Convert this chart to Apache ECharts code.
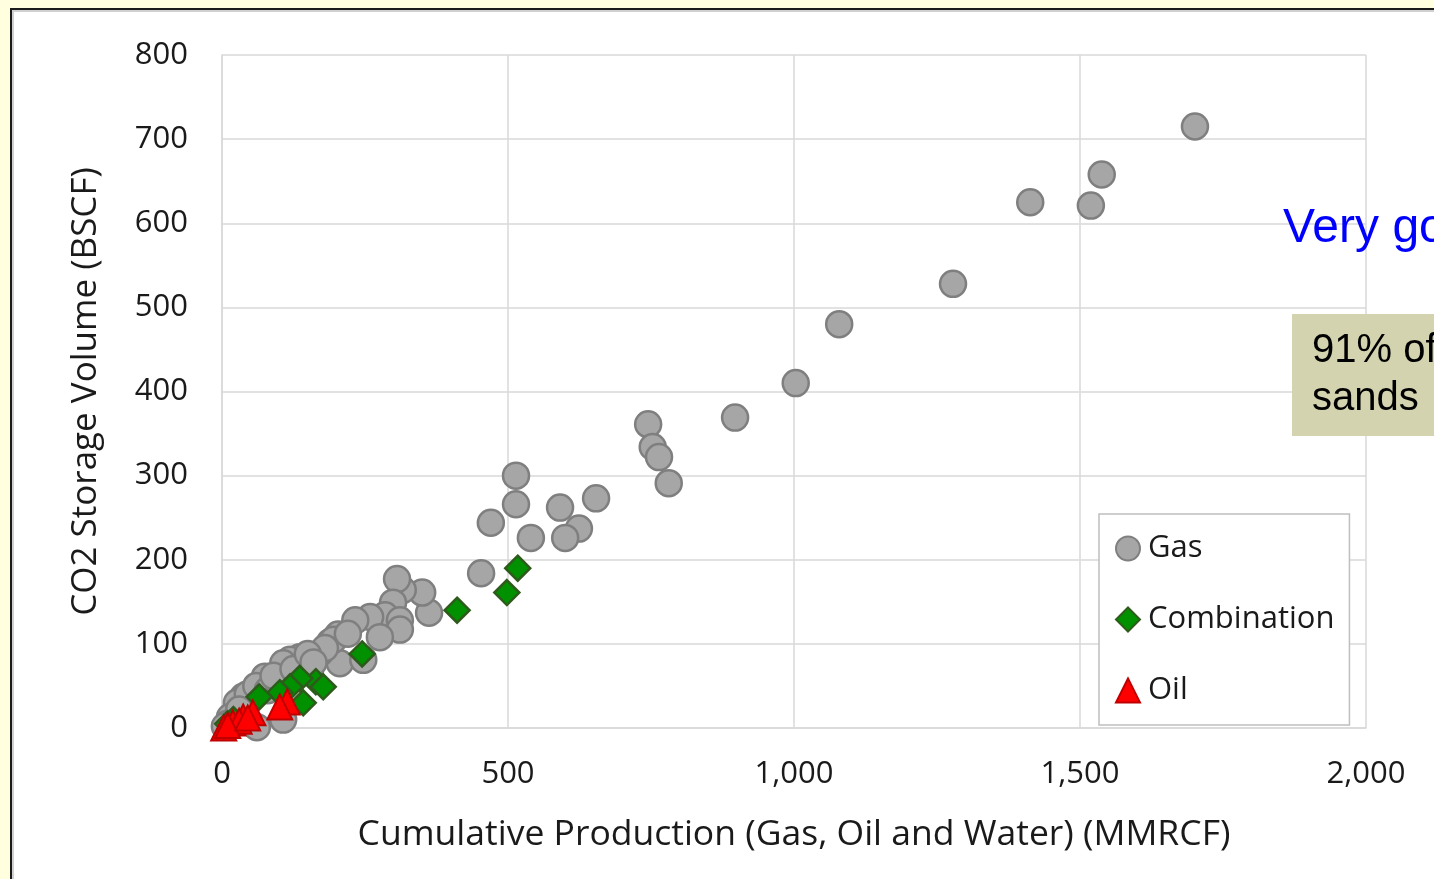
<!DOCTYPE html>
<html><head><meta charset="utf-8">
<script src="https://cdn.jsdelivr.net/npm/echarts@6/dist/echarts.min.js"></script>
<style>
html,body{margin:0;padding:0;background:#FFFFE0;width:1434px;height:879px;overflow:hidden;}
#frame{position:absolute;left:10px;top:8px;width:1500px;height:950px;background:#fff;border:2px solid #1a1a1a;box-shadow:inset 2px 2px 0 #d0d0d0;}
#chart{position:absolute;left:0;top:0;width:1434px;height:879px;}
</style></head>
<body><div id="frame"></div><div id="chart"></div>
<script>
const xTicks = [0, 500, 1000, 1500, 2000];
const yTicks = [0, 100, 200, 300, 400, 500, 600, 700, 800];
const gasData = [
 [1701,715],[1538,658],[1519,621],[1413,625],[1278,528],[1079,480],[1003,410],[897,369],
 [745,361],[753,334],[764,322],[781,291],[654,273],[591,262],[624,237],[600,226],[540,226],
 [514,300],[514,266],[470,244],[453,184],[362,137],[350,161],[316,164],[306,177],[299,149],
 [285,134],[259,132],[233,128],[311,128],[311,117],[276,108],[203,111],[189,102],[206,77],
 [247,81],[171,89],[136,84],[119,81],[107,77],[154,69],[75,61],[37,37],[26,30],[107,10],
 [61,1],[14,13],[45,40],[60,50],[80,45],[100,50],[10,5],[5,2],[30,22],[90,62],[125,70],
 [195,105],[180,95],[220,112],[150,88],[160,78]
];
const comboData = [
 [517,190],[498,161],[411,140],[245,88],[164,55],[177,49],[136,59],[119,49],[142,30],
 [101,42],[65,37],[20,10],[10,5]
];
const oilData = [
 [114,31],[101,25],[54,18],[37,13],[19,6],[3,0],[30,8],[10,3],[45,12]
];

const chart = echarts.init(document.getElementById('chart'), null, {renderer:'canvas'});
const FONT = '"Open Sans"';
const fmt = v => v.toLocaleString('en-US');
chart.setOption({
  backgroundColor: 'transparent',
  animation: false,
  grid: {left:222, right:68, top:55, bottom:151, containLabel:false},
  xAxis: {
    type:'value', min:xTicks[0], max:xTicks[xTicks.length-1], interval:500,
    name:'Cumulative Production (Gas, Oil and Water) (MMRCF)',
    nameLocation:'middle', nameGap:89,
    nameTextStyle:{fontFamily:FONT, fontSize:35.5, color:'#1a1a1a'},
    axisLine:{show:true, lineStyle:{color:'#d9d9d9', width:1.5}},
    axisTick:{show:false},
    axisLabel:{fontFamily:FONT, fontSize:31, color:'#1a1a1a', margin:31, formatter:fmt},
    splitLine:{show:true, lineStyle:{color:'#d9d9d9', width:1.5}}
  },
  yAxis: {
    type:'value', min:yTicks[0], max:yTicks[yTicks.length-1], interval:100,
    name:'CO2 Storage Volume (BSCF)',
    nameLocation:'middle', nameGap:118,
    nameTextStyle:{fontFamily:FONT, fontSize:35, color:'#1a1a1a'},
    axisLine:{show:true, lineStyle:{color:'#d9d9d9', width:1.5}},
    axisTick:{show:false},
    axisLabel:{fontFamily:FONT, fontSize:31, color:'#1a1a1a', margin:34, formatter:fmt},
    splitLine:{show:true, lineStyle:{color:'#d9d9d9', width:1.5}}
  },
  legend: {
    orient:'vertical', left:1099, top:514, width:250,
    padding:[19,15,19,16], itemGap:40,
    backgroundColor:'#fff', borderColor:'#bfbfbf', borderWidth:1.5,
    itemWidth:24, itemHeight:24,
    textStyle:{fontFamily:FONT, fontSize:31, color:'#1a1a1a', padding:[0,0,0,3]},
    data:['Gas','Combination','Oil']
  },
  series: [
    {name:'Gas', type:'scatter', data:gasData, symbol:'circle', symbolSize:26, z:2,
     itemStyle:{color:'#a6a6a6', borderColor:'#7f7f7f', borderWidth:2.5, opacity:1}},
    {name:'Combination', type:'scatter', data:comboData, symbol:'diamond', symbolSize:25, z:3,
     itemStyle:{color:'#009000', borderColor:'#2e5a1c', borderWidth:2.5, opacity:1}},
    {name:'Oil', type:'scatter', data:oilData, symbol:'triangle', symbolSize:25, z:4,
     itemStyle:{color:'#ff0000', borderColor:'#c00000', borderWidth:2, opacity:1}}
  ],
  graphic: [
    {type:'text', left:1283, top:205, z:100,
     style:{text:'Very good correlation', fill:'#0000ff', font:'48px "Liberation Sans", Arial'}},
    {type:'rect', left:1292, top:314, z:100, shape:{width:300, height:122},
     style:{fill:'#d4d3b0'}},
    {type:'text', left:1312, top:327, z:101,
     style:{text:'91% of the\nsands', fill:'#000', font:'40px "Liberation Sans", Arial', lineHeight:48}}
  ]
});
</script></body></html>
